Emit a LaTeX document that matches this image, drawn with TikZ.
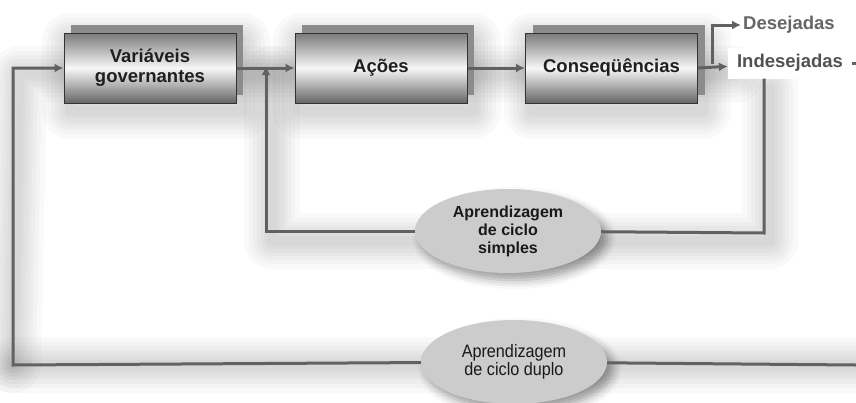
\documentclass[tikz,border=0pt]{standalone}
\usepackage{fontspec}
\setmainfont{Liberation Sans}
\newfontfamily\etroit{Liberation Sans}[FakeStretch=0.9]
\usetikzlibrary{shapes.geometric,shadows,shadows.blur,arrows.meta,backgrounds}
\def\largeur{856}
\def\hauteur{402}

\begin{document}
\begin{tikzpicture}[x=1pt, y=-1pt, >={Latex[length=9pt,width=9pt]},
	bloc/.style={draw=black!80, line width=1pt, top color=black!52, bottom color=black!60, middle color=black!3, minimum width=172pt, minimum height=70pt, align=center, text=black!88, font=\fontsize{18.5}{20}\selectfont\bfseries, general shadow={fill=black!45, shadow xshift=7pt, shadow yshift=8pt}},
	cycle/.style={ellipse, fill=black!20, minimum width=186pt, minimum height=84pt, inner sep=0pt, align=center, text=black!90, blur shadow={shadow xshift=6pt, shadow yshift=-7pt, shadow blur radius=9pt, shadow opacity=40}},
	fil/.style={draw=black!62, line width=3pt},
	halo/.style={draw=black, opacity=0.022, line join=round, line cap=round},
	]
	\useasboundingbox (0,0) rectangle (\largeur,\hauteur);
	%\draw[step=50, black!20] (0,0) grid (\largeur,\hauteur);
	\node[bloc] (var) at (150,68) {Variáveis\\governantes};
	\node[bloc] (acoes) at (381,68) {Ações};
	\node[bloc] (cons) at (611.5,68) {Conseqüências};
	\node[fill=white, inner xsep=9pt, minimum height=31pt, text=black!68, font=\fontsize{18.5}{21}\selectfont\bfseries] (indes) at (790,63) {Indesejadas};
	\node[anchor=west, inner sep=2pt, text=black!60, font=\fontsize{18.5}{21}\selectfont\bfseries] (des) at (741,25) {Desejadas};
	\node[cycle, font=\fontsize{16}{18}\selectfont\bfseries] (simples) at (508,231) {Aprendizagem\\de ciclo\\simples};
	\node[cycle, font=\etroit\fontsize{18}{16}\selectfont] (duplo) at (514,362) {Aprendizagem\\de ciclo duplo};
	\coordinate (bif) at (712,64);
	\coordinate (join) at (266,66);
	\coordinate (desc) at (764,233);
	\coordinate (gauche) at (13,365);
	\coordinate (droite) at (\largeur,365);
	\coordinate (sortie) at (\largeur,63);
	% ombre floue
	\begin{scope}[on background layer, shift={(6,8)}]
		\foreach \w in {56,46,38,30,23,16,10}{
			\draw[halo, line width=\w pt] (gauche) -- (droite);
			\draw[halo, line width=\w pt] (gauche) -- (13,66) -- (730,66);
			\draw[halo, line width=\w pt] (266,66) -- (266,233) -- (764,233) -- (764,80);
			\draw[halo, line width=\w pt] (64,33) rectangle (236,103);
			\draw[halo, line width=\w pt] (295,33) rectangle (467,103);
			\draw[halo, line width=\w pt] (526,33) rectangle (697,103);
		}
	\end{scope}
	% chaine principale
	\draw[fil,->] (var) -- (acoes);
	\draw[fil,->] (acoes) -- (cons);
	\draw[fil,->] (cons.east) -- (indes);
	\draw[fil,->] (bif) |- (des);
	\draw[fil] (indes) -- (sortie);
	% ciclo simples
	\draw[fil] (indes.south -| desc) -- (desc) -- (simples);
	\draw[fil,->] (simples) -| (join);
	% ciclo duplo
	\draw[fil] (droite) -- (duplo);
	\draw[fil,->] (duplo) -- (gauche) |- (var);
\end{tikzpicture}
\end{document}
